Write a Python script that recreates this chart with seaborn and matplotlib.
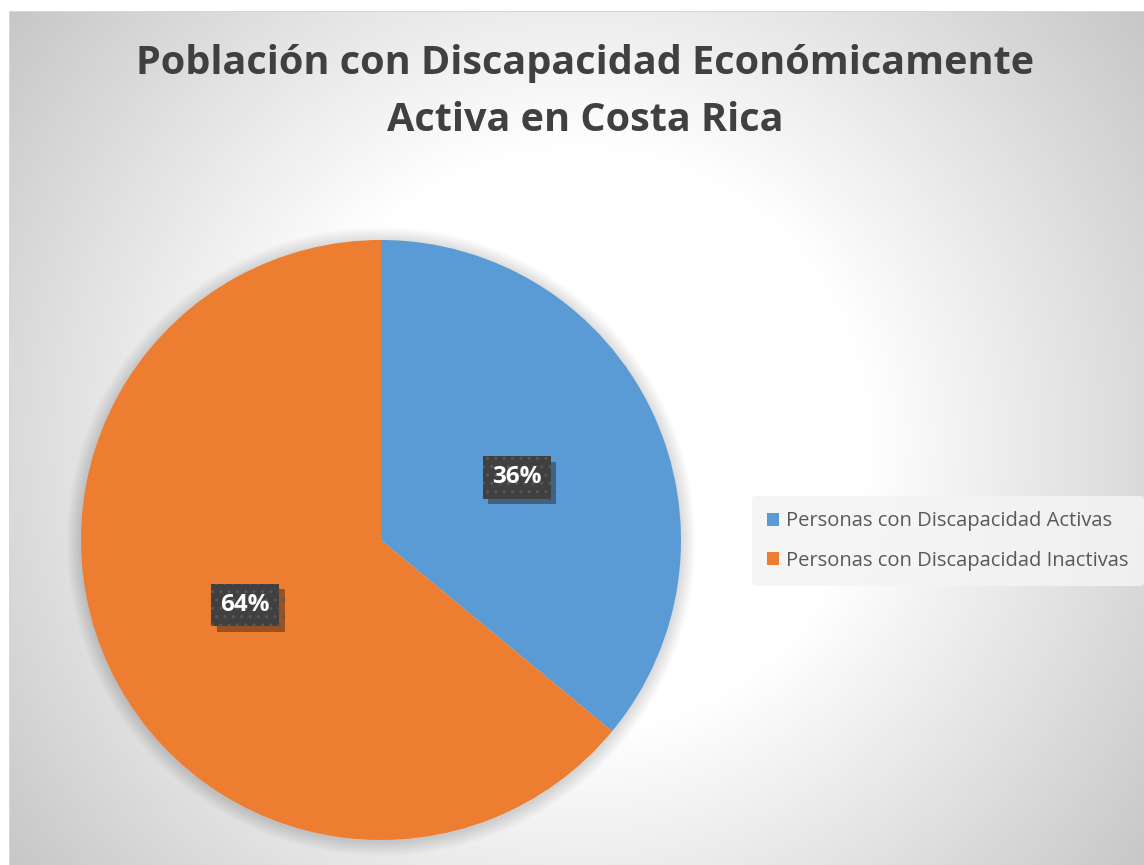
import numpy as np
import matplotlib
matplotlib.use("Agg")
import matplotlib.pyplot as plt
import matplotlib.patheffects as pe
import seaborn as sns

# ---- data ----
categories = ["Personas con Discapacidad Activas", "Personas con Discapacidad Inactivas"]
values = [36, 64]
colors = ["#5B9BD5", "#ED7D31"]
title = "Población con Discapacidad Económicamente\nActiva en Costa Rica"

sns.set_theme(style="white")
plt.rcParams['font.family'] = ['Open Sans', 'DejaVu Sans']

W, H = 1144, 865
fig = plt.figure(figsize=(W / 100, H / 100), dpi=100)
fig.patch.set_facecolor("white")

# ---- background radial gradient (chart area) ----
bg = fig.add_axes([0, 0, 1, 1], zorder=0)
yy, xx = np.mgrid[0:H, 0:W]
cx, cy = 577, 440
d = np.hypot(xx - cx, yy - cy)
t = np.clip((d - 290) / (710 - 290), 0, 1)
g = 255 - (255 - 199) * t
img = np.dstack([g, g, g]) / 255.0
img[:11, :, :] = 1.0
img[:, :9, :] = 1.0
img[11, 9:, :] = 0.85
img[11:, 9, :] = 0.85
bg.imshow(img, extent=[0, W, H, 0], interpolation="bilinear", aspect="auto")
bg.set_xlim(0, W)
bg.set_ylim(H, 0)
bg.axis("off")

# ---- pie ----
pcx, pcy, R = 381, 540, 300
ax = fig.add_axes([(pcx - R) / W, (H - pcy - R) / H, 2 * R / W, 2 * R / H], zorder=2)
ax.set_xlim(-1, 1)
ax.set_ylim(-1, 1)
ax.set_aspect("equal")
ax.axis("off")

# soft shadow around pie
for i in range(12):
    r = 1.0 + 0.004 * (12 - i)
    ax.add_patch(plt.Circle((0.0, -0.005), r, color="black", alpha=0.012, lw=0,
                            zorder=0, clip_on=False))

wedges, _ = ax.pie(values, colors=colors, startangle=90, counterclock=False,
                   radius=1.0, center=(0, 0), frame=False,
                   wedgeprops=dict(linewidth=0, zorder=2))
ax.set_xlim(-1, 1)
ax.set_ylim(-1, 1)

# data labels
total = sum(values)
start = 90.0
for v in values:
    ang = start - 360.0 * v / total / 2
    start -= 360.0 * v / total
    x = 0.5 * np.cos(np.radians(ang))
    y = 0.5 * np.sin(np.radians(ang))
    lab = f"{round(100 * v / total)}%"
    txt = ax.text(x, y - 0.004, lab, ha="center", va="center", fontsize=17.5,
                  fontweight="bold", color="white", zorder=4,
                  bbox=dict(boxstyle="square,pad=0.38", facecolor="#404040",
                            edgecolor="#575757", linewidth=0, hatch=".."))
    txt.get_bbox_patch().set_path_effects(
        [pe.SimplePatchShadow(offset=(4, -4), shadow_rgbFace="black", alpha=0.35), pe.Normal()])

# ---- title ----
fig.text(585 / W, 1 - 92 / H, title, ha="center", va="center", fontsize=28.5,
         fontweight="bold", color="#404040", linespacing=1.6, zorder=5)

# ---- legend ----
handles = [plt.Rectangle((0, 0), 1, 1, facecolor=c, edgecolor="none") for c in colors]
leg = fig.legend(handles, categories, loc="center left",
                 bbox_to_anchor=(752 / W, 1 - 541 / H), frameon=True, fontsize=14.5,
                 handlelength=0.6, handleheight=0.6, handletextpad=0.35,
                 labelspacing=0.95, borderpad=0.75, borderaxespad=0,
                 labelcolor="#595959")
leg.get_frame().set_facecolor("#f4f4f4")
leg.get_frame().set_alpha(0.85)
leg.get_frame().set_edgecolor("none")
leg.set_zorder(6)

fig.savefig("out.png", dpi=100)
